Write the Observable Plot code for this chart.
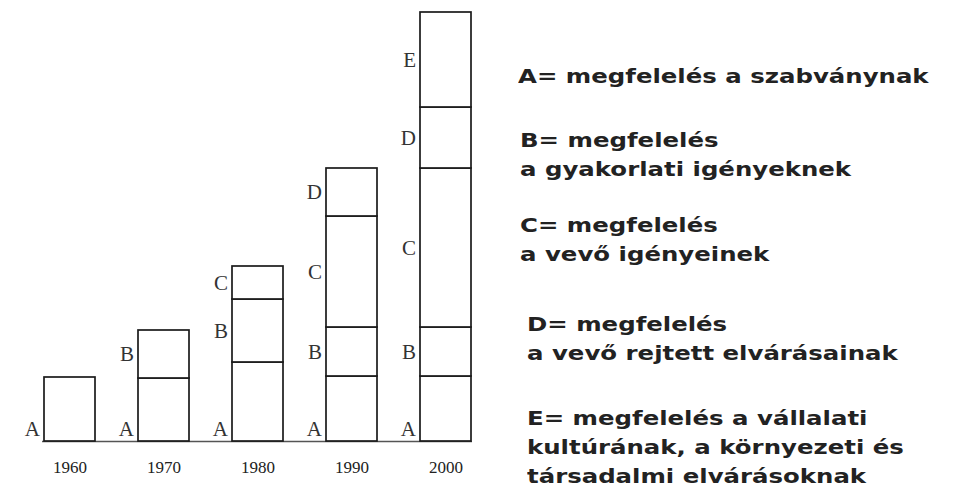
<!DOCTYPE html>
<html>
<head>
<meta charset="utf-8">
<script src="https://cdn.jsdelivr.net/npm/d3@7"></script>
<script src="https://cdn.jsdelivr.net/npm/@observablehq/plot@0.6"></script>
<style>
  html, body { margin: 0; padding: 0; background: #fff; }
  #wrap { display: flex; width: 956px; height: 490px; overflow: hidden; }
  #chart { width: 490px; flex: none; }
  #legend { font-family: "DejaVu Sans", Verdana, sans-serif; font-weight: bold; font-size: 20px;
            line-height: 29px; color: #222; padding-left: 28px; }
  #legend div { white-space: nowrap; transform: scaleX(1.22); transform-origin: 0 0; }
  #legend div:nth-child(1) { margin-top: 62px; }
  #legend div:nth-child(2) { margin-top: 35px; margin-left: 2px; }
  #legend div:nth-child(3) { margin-top: 27px; margin-left: 2px; }
  #legend div:nth-child(4) { margin-top: 41px; margin-left: 9px; }
  #legend div:nth-child(5) { margin-top: 36px; margin-left: 9px; }
</style>
</head>
<body>
<div id="wrap"><div id="chart"></div><div id="legend"></div></div>
<script>
// Categories (decades) and series (requirement levels)
const years = ["1960", "1970", "1980", "1990", "2000"];
const seriesNames = ["A", "B", "C", "D", "E"];

// Segment heights per decade (relative units)
const valuesA = [64, 63, 79, 65, 65];
const valuesB = [0, 48, 63, 49, 49];
const valuesC = [0, 0, 33, 111, 159];
const valuesD = [0, 0, 0, 48, 61];
const valuesE = [0, 0, 0, 0, 95];

// Legend texts
const legendA = ["A= megfelelés a szabványnak"];
const legendB = ["B= megfelelés", "a gyakorlati igényeknek"];
const legendC = ["C= megfelelés", "a vevő igényeinek"];
const legendD = ["D= megfelelés", "a vevő rejtett elvárásainak"];
const legendE = ["E= megfelelés a vállalati", "kultúrának, a környezeti és", "társadalmi elvárásoknak"];

// Build stacked table
const seriesValues = [valuesA, valuesB, valuesC, valuesD, valuesE];
const rows = [];
years.forEach((yr, i) => {
  let base = 0;
  seriesNames.forEach((s, j) => {
    const v = seriesValues[j][i];
    if (v > 0) {
      rows.push({year: yr, series: s, y1: base, y2: base + v,
                 labelY: s === "A" ? base : base + v / 2});
    }
    base += v;
  });
});
const maxTotal = d3.max(years.map((_, i) => d3.sum(seriesValues, a => a[i])));

const chart = Plot.plot({
  width: 490,
  height: 490,
  marginLeft: 42,
  marginRight: 18,
  marginTop: 12,
  marginBottom: 49,
  style: {background: "#fff"},
  x: {domain: years, paddingInner: 0.4617, paddingOuter: 0},
  y: {domain: [0, maxTotal], axis: null},
  marks: [
    Plot.ruleY([0], {stroke: "#555", strokeWidth: 1.5}),
    Plot.barY(rows, {x: "year", y1: "y1", y2: "y2", fill: "#fff", stroke: "#1a1a1a", strokeWidth: 1.7}),
    Plot.text(rows.filter(d => d.series !== "A"), {
      x: "year", y: "labelY", text: "series", textAnchor: "end", dx: -30,
      fontFamily: "Liberation Serif", fontSize: 21, fill: "#333"
    }),
    Plot.text(rows.filter(d => d.series === "A"), {
      x: "year", y: "labelY", text: "series", textAnchor: "end", dx: -30, dy: -12,
      fontFamily: "Liberation Serif", fontSize: 21, fill: "#333"
    }),
    Plot.axisX({tickSize: 0, tickPadding: 19, fontSize: 17, fontFamily: "Liberation Serif", fill: "#222", label: null})
  ]
});
document.getElementById("chart").appendChild(chart);

const legend = document.getElementById("legend");
[legendA, legendB, legendC, legendD, legendE].forEach(lines => {
  const div = document.createElement("div");
  lines.forEach((t, k) => {
    if (k > 0) div.appendChild(document.createElement("br"));
    div.appendChild(document.createTextNode(t));
  });
  legend.appendChild(div);
});
</script>
</body>
</html>
